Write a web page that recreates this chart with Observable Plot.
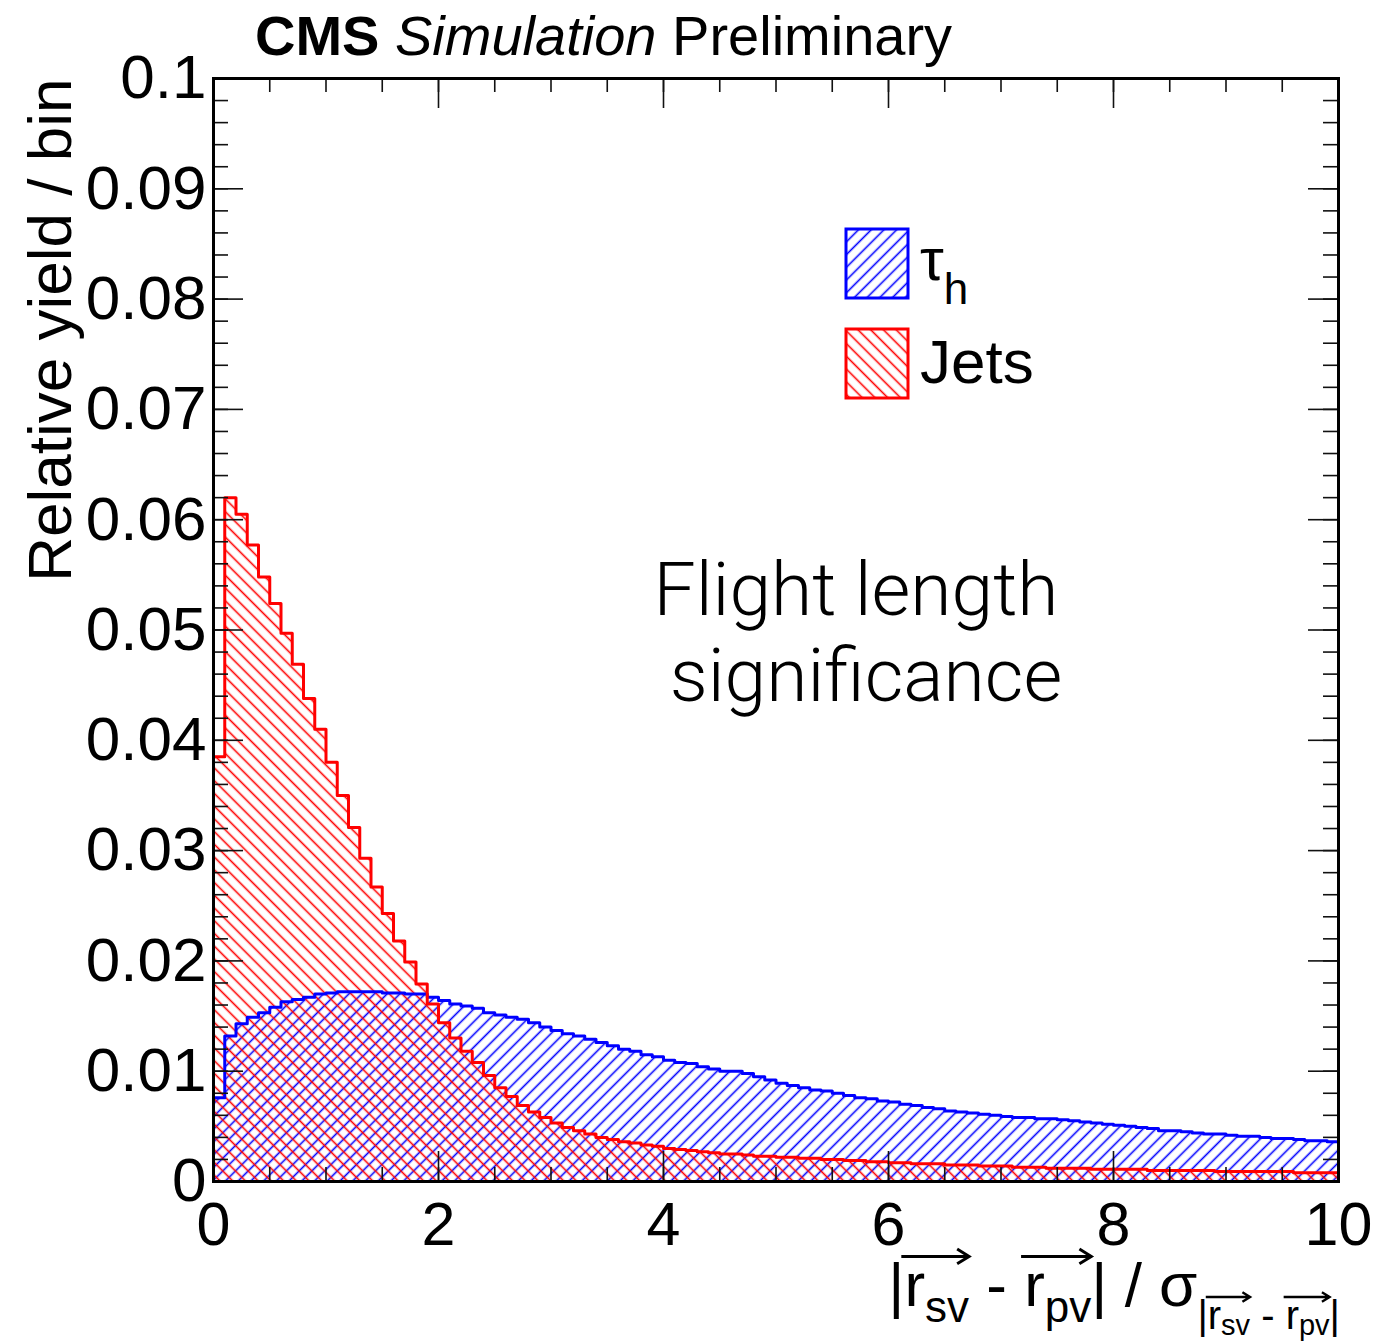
<!DOCTYPE html>
<html><head><meta charset="utf-8">
<script src="https://cdn.jsdelivr.net/npm/d3@7"></script>
<script src="https://cdn.jsdelivr.net/npm/@observablehq/plot@0.6"></script>
<style>body{margin:0;background:#fff} svg{display:block}</style>
</head><body><div id="chart"></div>
<script>
// ---- data (relative yield per bin, bins of width 0.1 from 0 to 10) ----
const binWidth = 0.1;
const tauH = [
  0.0076, 0.0132, 0.0143, 0.0149, 0.0153, 0.0158, 0.0163, 0.0165, 0.0167, 0.0170,
  0.0171, 0.0172, 0.0172, 0.0172, 0.0172, 0.0171, 0.0171, 0.0170, 0.0170, 0.0167,
  0.0164, 0.0161, 0.0159, 0.0157, 0.0153, 0.0151, 0.0149, 0.0147, 0.0144, 0.0140,
  0.0137, 0.0134, 0.0132, 0.0129, 0.0126, 0.0123, 0.0120, 0.0118, 0.0115, 0.0113,
  0.0110, 0.0108, 0.0107, 0.0104, 0.0102, 0.0100, 0.0100, 0.0098, 0.0095, 0.0092,
  0.0089, 0.0087, 0.0085, 0.0083, 0.0082, 0.0080, 0.0078, 0.0076, 0.0075, 0.0073,
  0.0072, 0.0070, 0.0069, 0.0067, 0.0066, 0.0064, 0.0063, 0.0062, 0.0061, 0.0060,
  0.0059, 0.0058, 0.0058, 0.0057, 0.0057, 0.0056, 0.0055, 0.0054, 0.0053, 0.0052,
  0.0051, 0.0050, 0.0049, 0.0048, 0.0046, 0.0046, 0.0045, 0.0044, 0.0043, 0.0043,
  0.0042, 0.0041, 0.0041, 0.0040, 0.0039, 0.0039, 0.0038, 0.0037, 0.0037, 0.0036
];
const jets = [
  0.0385, 0.0620, 0.0605, 0.0577, 0.0548, 0.0524, 0.0497, 0.0469, 0.0438, 0.0410,
  0.0380, 0.0350, 0.0321, 0.0293, 0.0267, 0.0243, 0.0218, 0.0199, 0.0179, 0.0161,
  0.0144, 0.0130, 0.0118, 0.0108, 0.0096, 0.0085, 0.0077, 0.0069, 0.0063, 0.0058,
  0.0053, 0.0049, 0.0046, 0.0043, 0.0040, 0.0038, 0.0036, 0.0035, 0.0033, 0.0032,
  0.0030, 0.0029, 0.0028, 0.0027, 0.0026, 0.0025, 0.0025, 0.0024, 0.0023, 0.0023,
  0.0022, 0.0022, 0.0021, 0.0021, 0.0020, 0.0020, 0.0019, 0.0019, 0.0018, 0.0018,
  0.0017, 0.0017, 0.0016, 0.0016, 0.0016, 0.0015, 0.0015, 0.0015, 0.0014, 0.0014,
  0.0014, 0.0013, 0.0013, 0.0013, 0.0012, 0.0012, 0.0012, 0.0012, 0.0011, 0.0011,
  0.0011, 0.0011, 0.0011, 0.0010, 0.0010, 0.0010, 0.0010, 0.0010, 0.0010, 0.0009,
  0.0009, 0.0009, 0.0009, 0.0009, 0.0009, 0.0009, 0.0008, 0.0008, 0.0008, 0.0008
];
const xTicks = [0, 2, 4, 6, 8, 10];
const xTickLabels = ["0", "2", "4", "6", "8", "10"];
const yTicks = [0, 0.01, 0.02, 0.03, 0.04, 0.05, 0.06, 0.07, 0.08, 0.09, 0.1];
const yTickLabels = ["0", "0.01", "0.02", "0.03", "0.04", "0.05", "0.06", "0.07", "0.08", "0.09", "0.1"];
const xMinorTicks = d3.range(0, 10.0001, 0.5);
const yMinorTicks = d3.range(0, 0.10001, 0.002);
const legendLabels = ["τ", "Jets"];

// ---- layout ----
const W = 1375, H = 1343, ML = 213, MR = 37, MT = 78, MB = 162;
const FW = W - ML - MR, FH = H - MT - MB;
const FONT = "'Liberation Sans', Arial, Helvetica, sans-serif";
const BLUE = "#0000ff", RED = "#ff0000";

function stepPoints(vals) {
  const pts = [{x: 0, y: 0}];
  vals.forEach((v, i) => pts.push({x: i * binWidth, y: v}));
  pts.push({x: vals.length * binWidth, y: vals[vals.length - 1]});
  return pts;
}
const tauPts = stepPoints(tauH);
const jetPts = stepPoints(jets);

const tickStyle = {stroke: "#111", strokeWidth: 1.6};
const plot = Plot.plot({
  width: W, height: H,
  marginLeft: ML, marginRight: MR, marginTop: MT, marginBottom: MB,
  x: {domain: [0, 10], axis: null},
  y: {domain: [0, 0.1], axis: null},
  style: {fontFamily: FONT, background: "white", color: "black"},
  marks: [
    Plot.areaY(tauPts, {x: "x", y: "y", curve: "step-after", fill: "url(#hatchBlue)"}),
    Plot.areaY(jetPts, {x: "x", y: "y", curve: "step-after", fill: "url(#hatchRed)"}),
    Plot.line(tauPts, {x: "x", y: "y", curve: "step-after", stroke: BLUE, strokeWidth: 3}),
    Plot.line(jetPts, {x: "x", y: "y", curve: "step-after", stroke: RED, strokeWidth: 3}),
    // x ticks (bottom & top, pointing inward)
    Plot.tickX(xMinorTicks, {x: d => d, insetTop: FH - 14, ...tickStyle}),
    Plot.tickX(xMinorTicks, {x: d => d, insetBottom: FH - 14, ...tickStyle}),
    Plot.tickX(xTicks, {x: d => d, insetTop: FH - 30, ...tickStyle}),
    Plot.tickX(xTicks, {x: d => d, insetBottom: FH - 30, ...tickStyle}),
    // y ticks (left & right, pointing inward)
    Plot.tickY(yMinorTicks, {y: d => d, insetRight: FW - 15, ...tickStyle}),
    Plot.tickY(yMinorTicks, {y: d => d, insetLeft: FW - 15, ...tickStyle}),
    Plot.tickY(yTicks, {y: d => d, insetRight: FW - 30, ...tickStyle}),
    Plot.tickY(yTicks, {y: d => d, insetLeft: FW - 30, ...tickStyle}),
    Plot.frame({stroke: "black", strokeWidth: 3}),
    // tick labels
    Plot.text(xTicks, {x: d => d, text: (d, i) => xTickLabels[i], frameAnchor: "bottom", lineAnchor: "middle", dy: 44, fontSize: 61, fill: "black"}),
    Plot.text(yTicks, {y: d => d, text: (d, i) => yTickLabels[i], frameAnchor: "left", lineAnchor: "middle", dx: -7, textAnchor: "end", fontSize: 62, fill: "black"}),
    // y axis title
    Plot.text(["Relative yield / bin"], {text: d => d, frameAnchor: "top-left", rotate: -90, textAnchor: "end", lineAnchor: "bottom", dx: -143, dy: 0, fontSize: 62, fill: "black"})
  ]
});
document.getElementById("chart").appendChild(plot);

const svg = d3.select(plot);
// hatch patterns
const defs = svg.insert("defs", ":first-child");
function hatch(id, color, angle) {
  const s = 9;
  const p = defs.append("pattern").attr("id", id)
    .attr("patternUnits", "userSpaceOnUse")
    .attr("width", s).attr("height", s)
    .attr("patternTransform", `rotate(${angle})`);
  p.append("line").attr("x1", s / 2).attr("y1", -1).attr("x2", s / 2).attr("y2", s + 1)
    .attr("stroke", color).attr("stroke-width", 1.6);
}
hatch("hatchBlue", BLUE, 45);
hatch("hatchRed", RED, -45);

const g = svg.append("g").attr("font-family", FONT).attr("fill", "black").attr("text-anchor", "start");

// title
const title = g.append("text").attr("x", 255).attr("y", 55).attr("font-size", 56);
title.append("tspan").attr("font-weight", "bold").text("CMS");
title.append("tspan").attr("font-style", "italic").text("\u00A0Simulation");
title.append("tspan").text("\u00A0Preliminary");

// legend
g.append("rect").attr("x", 846).attr("y", 229).attr("width", 62).attr("height", 69)
  .attr("fill", "url(#hatchBlue)").attr("stroke", BLUE).attr("stroke-width", 3);
g.append("rect").attr("x", 846).attr("y", 329).attr("width", 62).attr("height", 69)
  .attr("fill", "url(#hatchRed)").attr("stroke", RED).attr("stroke-width", 3);
const tau = g.append("text").attr("x", 920).attr("y", 280).attr("font-size", 60);
tau.append("tspan").text(legendLabels[0]);
tau.append("tspan").attr("font-size", 44).attr("dy", 24).text("h");
g.append("text").attr("x", 920).attr("y", 383).attr("font-size", 62).text(legendLabels[1]);

// annotation
const ann = g.append("g").attr("font-family", "Roboto, 'Liberation Sans', sans-serif")
  .attr("font-weight", 300).attr("font-size", 75).attr("text-anchor", "middle");
ann.append("text").attr("x", 856).attr("y", 615).text("Flight length");
ann.append("text").attr("x", 866).attr("y", 701).text("significance");

// x-axis title: |r_sv - r_pv| / σ_{|r_sv - r_pv|}, right-aligned at the frame's end
const pieces = [
  {t: "|", s: 62, b: 0},
  {t: "r", s: 62, b: 0, arrow: 2},
  {t: "sv", s: 44, b: 16},
  {t: "\u00A0-\u00A0", s: 62, b: 0},
  {t: "r", s: 62, b: 0, arrow: 2},
  {t: "pv", s: 44, b: 16},
  {t: "|", s: 62, b: 0},
  {t: "\u00A0/\u00A0", s: 62, b: 0},
  {t: "σ", s: 62, b: 0},
  {t: "|", s: 40, b: 23},
  {t: "r", s: 40, b: 23, arrow: 2},
  {t: "sv", s: 29, b: 29},
  {t: "\u00A0-\u00A0", s: 40, b: 23},
  {t: "r", s: 40, b: 23, arrow: 2},
  {t: "pv", s: 29, b: 29},
  {t: "|", s: 40, b: 23}
];
const xt = g.append("g").attr("text-anchor", "start");
const baseY = 1306;
let cursor = 0;
const placed = pieces.map(p => {
  const el = xt.append("text").attr("x", cursor).attr("y", baseY + p.b).attr("font-size", p.s).text(p.t);
  const w = el.node().getComputedTextLength();
  const o = {el, x: cursor, w, p};
  cursor += w;
  return o;
});
const shift = ML + FW + 2 - cursor;
xt.attr("transform", `translate(${shift},0)`);
placed.forEach((o, i) => {
  if (!o.p.arrow) return;
  const last = placed[i + o.p.arrow - 1];
  const x1 = o.x - o.p.s * 0.05, x2 = last.x + last.w;
  const y = baseY + o.p.b - o.p.s * 0.8;
  const hs = o.p.s * 0.12;
  xt.append("path")
    .attr("d", `M${x1},${y}H${x2}M${x2 - hs * 1.6},${y - hs}L${x2},${y}L${x2 - hs * 1.6},${y + hs}`)
    .attr("fill", "none").attr("stroke", "black").attr("stroke-width", o.p.s > 50 ? 3 : 2.4);
});
</script>
</body></html>
